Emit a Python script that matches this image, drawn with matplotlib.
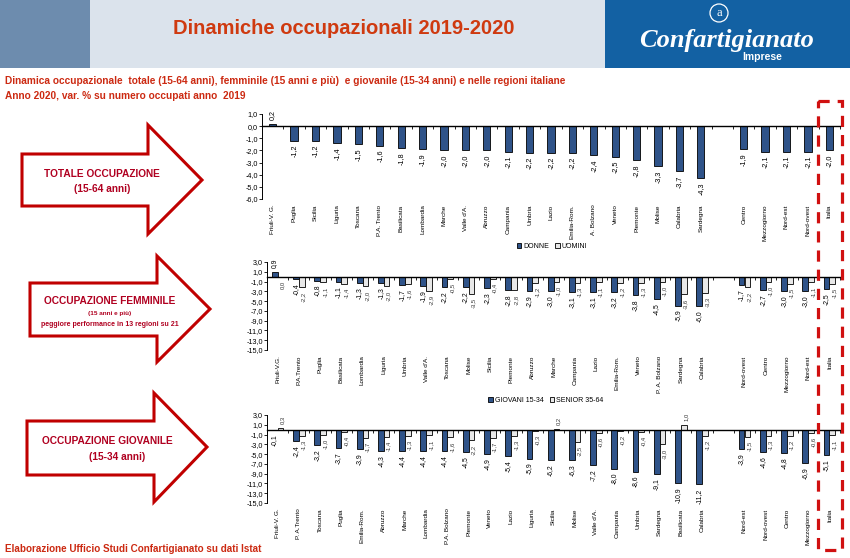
import numpy as np
import matplotlib
matplotlib.use("Agg")
import matplotlib.pyplot as plt
from matplotlib.patches import Rectangle, Polygon, Circle
from matplotlib.ticker import FuncFormatter

plt.rcParams['font.family'] = ['Liberation Sans Narrow', 'Liberation Sans', 'DejaVu Sans']

# ---- data -------------------------------------------------------------
tot_regions = ["Friuli-V. G.", "Puglia", "Sicilia", "Liguria", "Toscana", "P.A. Trento",
               "Basilicata", "Lombardia", "Marche", "Valle d'A.", "Abruzzo", "Campania",
               "Umbria", "Lazio", "Emilia-Rom.", "A. Bolzano", "Veneto", "Piemonte",
               "Molise", "Calabria", "Sardegna"]
tot_values = [0.2, -1.2, -1.2, -1.4, -1.5, -1.6, -1.8, -1.9, -2.0, -2.0, -2.0, -2.1,
              -2.2, -2.2, -2.2, -2.4, -2.5, -2.8, -3.3, -3.7, -4.3]
tot_areas = ["Centro", "Mezzogiorno", "Nord-est", "Nord-ovest", "Italia"]
tot_area_values = [-1.9, -2.1, -2.1, -2.1, -2.0]

fem_regions = ["Friuli-V.G.", "P.A.Trento", "Puglia", "Basilicata", "Lombardia", "Liguria",
               "Umbria", "Valle d'A.", "Toscana", "Molise", "Sicilia", "Piemonte",
               "Abruzzo", "Marche", "Campania", "Lazio", "Emilia-Rom.", "Veneto",
               "P. A. Bolzano", "Sardegna", "Calabria"]
fem_donne = [0.9, -0.4, -0.8, -1.1, -1.3, -1.3, -1.7, -1.9, -2.2, -2.2, -2.3, -2.8,
             -2.9, -3.0, -3.1, -3.1, -3.2, -3.8, -4.5, -5.9, -6.0]
fem_uomini = [0.0, -2.2, -1.1, -1.4, -2.0, -2.0, -1.6, -2.9, -0.5, -3.5, -0.4, -2.8,
              -1.2, -1.0, -1.3, -1.1, -1.2, -1.3, -1.0, -3.6, -3.3]
fem_areas = ["Nord-ovest", "Centro", "Mezzogiorno", "Nord-est", "Italia"]
fem_area_donne = [-1.7, -2.7, -3.0, -3.0, -2.5]
fem_area_uomini = [-2.2, -1.0, -1.5, -1.1, -1.5]

giov_regions = ["Friuli-V. G.", "P. A.Trento", "Toscana", "Puglia", "Emilia-Rom.", "Abruzzo",
                "Marche", "Lombardia", "P.A. Bolzano", "Piemonte", "Veneto", "Lazio",
                "Liguria", "Sicilia", "Molise", "Valle d'A.", "Campania", "Umbria",
                "Sardegna", "Basilicata", "Calabria"]
giov_giovani = [-0.1, -2.4, -3.2, -3.7, -3.9, -4.3, -4.4, -4.4, -4.4, -4.5, -4.9, -5.4,
                -5.9, -6.2, -6.3, -7.2, -8.0, -8.6, -9.1, -10.9, -11.2]
giov_senior = [0.3, -1.3, -1.0, -0.4, -1.7, -1.4, -1.3, -1.1, -1.6, -2.2, -1.7, -1.3,
               -0.3, 0.2, -2.5, -0.6, -0.2, -0.4, -3.0, 1.0, -1.2]
giov_areas = ["Nord-est", "Nord-ovest", "Centro", "Mezzogiorno", "Italia"]
giov_area_giovani = [-3.9, -4.6, -4.8, -6.9, -5.1]
giov_area_senior = [-1.5, -1.3, -1.2, -0.6, -1.1]

# ---- style ------------------------------------------------------------
W, H = 850, 558
BLUE = '#2f5389'
LIGHT = '#e8e8e8'
TXT_RED = '#cc2a12'
ARROW_TXT = '#b00020'

fig = plt.figure(figsize=(W / 100, H / 100), dpi=100)


def px_rect(x0, y0, x1, y1):
    return [x0 / W, 1 - y1 / H, (x1 - x0) / W, (y1 - y0) / H]


def fmt(v):
    return f"{v:.1f}".replace('.', ',')


# background canvas in pixel coordinates
canvas = fig.add_axes([0, 0, 1, 1], zorder=0)
canvas.set_xlim(0, W)
canvas.set_ylim(H, 0)
canvas.axis('off')

canvas.add_patch(Rectangle((0, 0), 90, 68, color='#6d8cae', lw=0))
canvas.add_patch(Rectangle((90, 0), 515, 68, color='#dbe3ec', lw=0))
canvas.add_patch(Rectangle((605, 0), 245, 68, color='#1361a3', lw=0))
canvas.text(344, 28, "Dinamiche occupazionali 2019-2020", ha='center', va='center',
            fontsize=14.5, fontweight='bold', color='#cf3a10')

# logo
canvas.add_patch(Circle((719, 13), 9, fill=False, ec='white', lw=0.9))
canvas.text(719, 13.5, "a", ha='center', va='center', fontsize=9, color='white',
            family=['Liberation Serif', 'DejaVu Serif'])
canvas.text(727, 40, "Confartigianato", ha='center', va='center', fontsize=19,
            color='white', fontweight='bold', fontstyle='italic',
            family=['Liberation Serif', 'DejaVu Serif'])
canvas.text(762, 57, "Imprese", ha='center', va='center', fontsize=7.5,
            color='white', fontweight='bold')

canvas.text(5, 81, "Dinamica occupazionale  totale (15-64 anni), femminile (15 anni e più)  "
            "e giovanile (15-34 anni) e nelle regioni italiane", ha='left', va='center',
            fontsize=7.25, fontweight='bold', color=TXT_RED)
canvas.text(5, 96, "Anno 2020, var. % su numero occupati anno  2019", ha='left', va='center',
            fontsize=7.25, fontweight='bold', color=TXT_RED)
canvas.text(5, 549, "Elaborazione Ufficio Studi Confartigianato su dati Istat", ha='left',
            va='center', fontsize=7.1, fontweight='bold', color=TXT_RED)


# block arrows
def block_arrow(x0, bt, bb, hb, ht, hbm, tip_x, tip_y):
    pts = [(x0, bt), (hb, bt), (hb, ht), (tip_x, tip_y), (hb, hbm), (hb, bb), (x0, bb)]
    canvas.add_patch(Polygon(pts, closed=True, fc='white', ec='#c00000', lw=2.2,
                             joinstyle='miter'))


block_arrow(22, 154, 206, 148, 125, 234, 202, 180)
block_arrow(30, 283, 336, 157, 256, 362, 210, 309)
block_arrow(27, 421, 475, 154, 393, 502, 207, 447)

canvas.text(102, 174, "TOTALE OCCUPAZIONE", ha='center', va='center', fontsize=7.3,
            fontweight='bold', color=ARROW_TXT)
canvas.text(102, 189, "(15-64 anni)", ha='center', va='center', fontsize=7.3,
            fontweight='bold', color=ARROW_TXT)
canvas.text(110, 301, "OCCUPAZIONE FEMMINILE", ha='center', va='center', fontsize=7.3,
            fontweight='bold', color=ARROW_TXT)
canvas.text(110, 313, "(15 anni e più)", ha='center', va='center', fontsize=4.6,
            fontweight='bold', color=ARROW_TXT)
canvas.text(110, 324, "peggiore performance in 13 regioni su 21", ha='center', va='center',
            fontsize=5.0, fontweight='bold', color=ARROW_TXT)
canvas.text(107, 441, "OCCUPAZIONE GIOVANILE", ha='center', va='center', fontsize=7.3,
            fontweight='bold', color=ARROW_TXT)
canvas.text(117, 457, "(15-34 anni)", ha='center', va='center', fontsize=7.3,
            fontweight='bold', color=ARROW_TXT)


# ---- charts -----------------------------------------------------------
def positions(n_regions, n_areas):
    return list(range(n_regions)) + [n_regions + 1 + i for i in range(n_areas)]


def setup_axis(ax, ylim, yticks, names, pos):
    ax.set_xlim(-0.5, len(pos) + 0.5)
    ax.set_ylim(*ylim)
    ax.set_yticks(yticks)
    ax.yaxis.set_major_formatter(FuncFormatter(lambda v, p: fmt(v)))
    ax.spines['top'].set_visible(False)
    ax.spines['right'].set_visible(False)
    ax.spines['left'].set_linewidth(0.7)
    ax.spines['bottom'].set_position(('data', 0))
    ax.spines['bottom'].set_linewidth(1.0)
    ax.set_xticks(np.arange(-0.5, len(pos) + 0.6, 1))
    ax.tick_params(axis='x', length=2.5, width=0.6, labelbottom=False)
    ax.tick_params(axis='y', length=2, width=0.6, pad=1, labelsize=5.2)
    ax.patch.set_alpha(0)
    for name, x in zip(names, pos):
        ax.annotate(name, xy=(x, 0), xycoords=('data', 'axes fraction'),
                    xytext=(0, -4), textcoords='offset points', rotation=90,
                    ha='center', va='top', fontsize=4.6)


def value_labels(ax, xs, vals, size, color='black'):
    for x, v in zip(xs, vals):
        off = 3 if v > 0 else -3
        ax.annotate(fmt(v), xy=(x, v), xytext=(0, off), textcoords='offset points',
                    rotation=90, ha='center', va='bottom' if v > 0 else 'top',
                    fontsize=size, color=color)


# chart 1: totale
ax1 = fig.add_axes(px_rect(262, 114, 840, 199), zorder=1)
pos1 = positions(len(tot_regions), len(tot_areas))
vals1 = tot_values + tot_area_values
ax1.bar(pos1, vals1, width=0.34, color=BLUE, edgecolor='black', linewidth=0.6)
setup_axis(ax1, (-6, 1), np.arange(1, -6.1, -1), tot_regions + tot_areas, pos1)
value_labels(ax1, pos1, vals1, 5.2)

# chart 2: femminile
ax2 = fig.add_axes(px_rect(267, 262, 840, 350), zorder=1)
pos2 = np.array(positions(len(fem_regions), len(fem_areas)))
d2 = fem_donne + fem_area_donne
u2 = fem_uomini + fem_area_uomini
bw = 0.27
b_d = ax2.bar(pos2 - bw / 2, d2, width=bw, color=BLUE, edgecolor='black', linewidth=0.6)
b_u = ax2.bar(pos2 + bw / 2, u2, width=bw, color=LIGHT, edgecolor='black', linewidth=0.6)
setup_axis(ax2, (-15, 3), np.arange(3, -15.1, -2), fem_regions + fem_areas, pos2)
value_labels(ax2, pos2 - bw / 2, d2, 4.9)
value_labels(ax2, pos2 + bw / 2 + 0.1, u2, 4.2, '#333333')
fig.legend([b_d, b_u], ["DONNE", "UOMINI"], loc='center',
           bbox_to_anchor=(552 / W, 1 - 246 / H), ncol=2, frameon=False, fontsize=5.0,
           handlelength=0.7, handleheight=0.7, handletextpad=0.3, columnspacing=0.8)

# chart 3: giovanile
ax3 = fig.add_axes(px_rect(267, 415, 840, 503), zorder=1)
pos3 = np.array(positions(len(giov_regions), len(giov_areas)))
g3 = giov_giovani + giov_area_giovani
s3 = giov_senior + giov_area_senior
b_g = ax3.bar(pos3 - bw / 2, g3, width=bw, color=BLUE, edgecolor='black', linewidth=0.6)
b_s = ax3.bar(pos3 + bw / 2, s3, width=bw, color=LIGHT, edgecolor='black', linewidth=0.6)
setup_axis(ax3, (-15, 3), np.arange(3, -15.1, -2), giov_regions + giov_areas, pos3)
value_labels(ax3, pos3 - bw / 2, g3, 4.9)
value_labels(ax3, pos3 + bw / 2 + 0.1, s3, 4.2, '#333333')
fig.legend([b_g, b_s], ["GIOVANI 15-34", "SENIOR 35-64"], loc='center',
           bbox_to_anchor=(546 / W, 1 - 400 / H), ncol=2, frameon=False, fontsize=5.0,
           handlelength=0.7, handleheight=0.7, handletextpad=0.3, columnspacing=0.8)

# dashed highlight around Italia
top = fig.add_axes([0, 0, 1, 1], zorder=5)
top.set_xlim(0, W)
top.set_ylim(H, 0)
top.axis('off')
top.add_patch(Rectangle((818, 101), 24, 449, fill=False, ec='#d01010', lw=2.3,
                        ls=(0, (3.5, 2.5))))

fig.savefig("out.png", dpi=100)
